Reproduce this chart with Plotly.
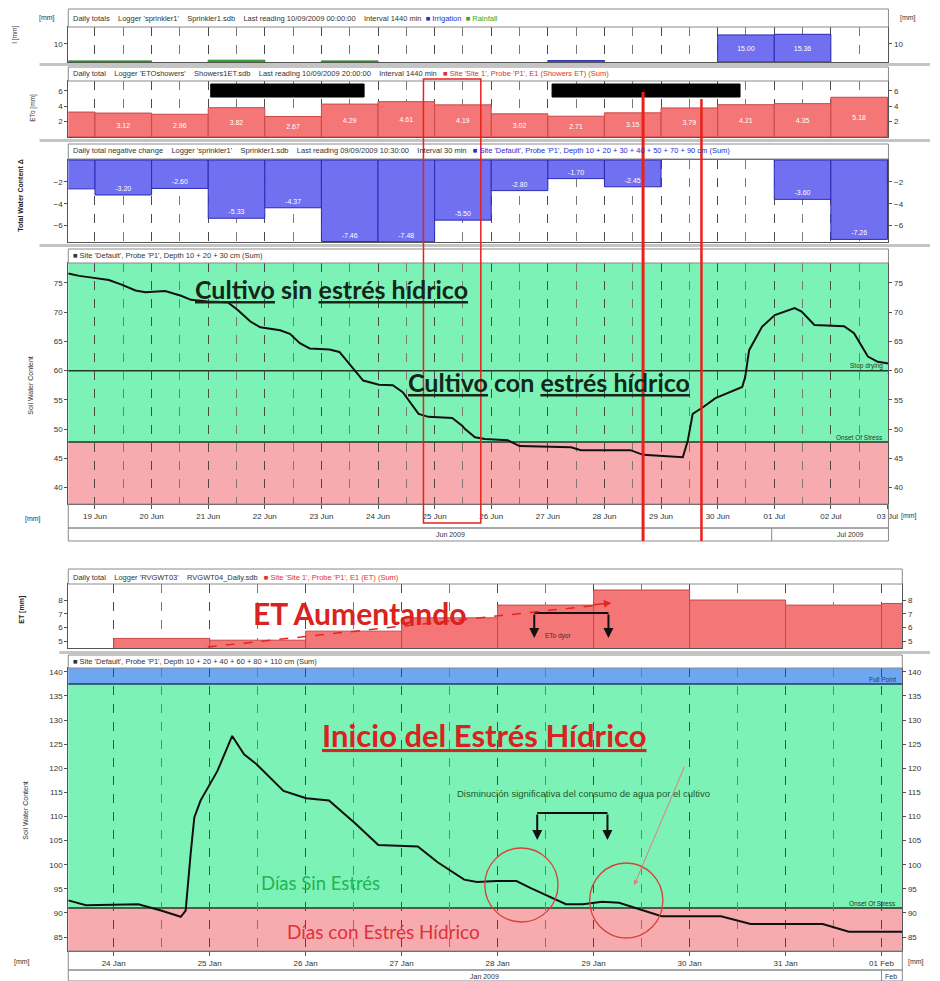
import pandas as pd
import plotly.graph_objects as go

W, H = 940, 981


def fx(p):
    return p / W


def fy(p):
    return 1 - p / H


DAY_MS = 86400000

# ------------------------------------------------------------------ DATA
# Top chart (June - July 2009)
top_range = ["2009-06-18 12:40", "2009-07-03 00:25"]

rain_days = ["2009-06-18", "2009-06-19", "2009-06-21", "2009-06-23"]
rain_mm = [0.6, 0.6, 1.0, 0.6]

irrig_days = ["2009-06-27", "2009-06-30", "2009-07-01"]
irrig_mm = [0.8, 15.00, 15.36]
irrig_labels = ["", "15.00", "15.36"]

eto_days = ["2009-06-18", "2009-06-19", "2009-06-20", "2009-06-21", "2009-06-22",
            "2009-06-23", "2009-06-24", "2009-06-25", "2009-06-26", "2009-06-27",
            "2009-06-28", "2009-06-29", "2009-06-30", "2009-07-01", "2009-07-02",
            "2009-07-03"]
eto_mm = [3.25, 3.12, 2.96, 3.82, 2.67, 4.29, 4.61, 4.19, 3.02, 2.71,
          3.15, 3.79, 4.21, 4.35, 5.18, 2.10]

chg_days = eto_days
chg_mm = [-2.64, -3.20, -2.60, -5.33, -4.37, -7.46, -7.48, -5.50, -2.80, -1.70,
          -2.45, None, None, -3.60, -7.26, -2.60]

swc_top_time = [
    "2009-06-18 12:40", "2009-06-18 17:17", "2009-06-18 22:45", "2009-06-19 05:53",
    "2009-06-19 11:17", "2009-06-19 17:12", "2009-06-19 21:22", "2009-06-20 05:46",
    "2009-06-20 12:29", "2009-06-20 16:42", "2009-06-20 23:46", "2009-06-21 08:14",
    "2009-06-21 12:24", "2009-06-21 17:53", "2009-06-21 22:05", "2009-06-22 06:29",
    "2009-06-22 10:39", "2009-06-22 14:51", "2009-06-22 19:03", "2009-06-23 03:26",
    "2009-06-23 07:38", "2009-06-23 11:50", "2009-06-23 17:43", "2009-06-24 00:24",
    "2009-06-24 06:17", "2009-06-24 10:29", "2009-06-24 17:12", "2009-06-24 21:24",
    "2009-06-25 07:28", "2009-06-25 11:40", "2009-06-25 12:55", "2009-06-25 17:07",
    "2009-06-25 21:19", "2009-06-26 06:58", "2009-06-26 12:00", "2009-06-27 09:49",
    "2009-06-27 14:01", "2009-06-28 11:00", "2009-06-28 16:26", "2009-06-29 09:13",
    "2009-06-29 11:20", "2009-06-29 13:25", "2009-06-29 17:37", "2009-06-29 23:05",
    "2009-06-30 04:57", "2009-06-30 10:25", "2009-06-30 11:40", "2009-06-30 13:21",
    "2009-06-30 18:48", "2009-07-01 00:14", "2009-07-01 08:38", "2009-07-01 11:36",
    "2009-07-01 17:02", "2009-07-02 05:37", "2009-07-02 09:49", "2009-07-02 15:42",
    "2009-07-02 19:54", "2009-07-03 00:29"]
swc_top_mm = [76.6, 76.2, 75.9, 75.5, 74.7, 73.7, 73.4, 73.6, 72.8, 72.1,
              71.8, 71.7, 70.4, 68.4, 67.4, 66.9, 66.3, 64.7, 63.8, 63.6,
              63.2, 61.2, 58.3, 57.6, 57.5, 56.3, 52.6, 52.1, 51.9, 50.6,
              50.0, 48.6, 48.3, 48.1, 47.1, 46.9, 46.4, 46.4, 45.6, 45.2,
              48.0, 52.6, 53.7, 55.3, 56.3, 57.2, 58.9, 63.5, 67.5, 69.5,
              70.7, 70.1, 67.8, 67.6, 66.4, 62.4, 61.5, 61.2]
TOP_STOP = 60.0
TOP_ONSET = 47.8
TOP_YMIN, TOP_YMAX = 37.2, 78.4

# Bottom chart (January - February 2009)
bot_range = ["2009-01-23 12:39", "2009-02-01 05:11"]

et_days = ["2009-01-24", "2009-01-25", "2009-01-26", "2009-01-27", "2009-01-28",
           "2009-01-29", "2009-01-30", "2009-01-31", "2009-02-01"]
et_mm = [5.20, 5.07, 5.73, 6.70, 7.63, 8.73, 8.00, 7.63, 7.75]

swc_bot_time = [
    "2009-01-23 12:39", "2009-01-23 17:05", "2009-01-24 06:10", "2009-01-24 11:50",
    "2009-01-24 16:47", "2009-01-24 18:00", "2009-01-24 19:15", "2009-01-24 20:10",
    "2009-01-24 21:43", "2009-01-25 01:55", "2009-01-25 05:38", "2009-01-25 08:36",
    "2009-01-25 11:48", "2009-01-25 18:28", "2009-01-26 00:08", "2009-01-26 05:50",
    "2009-01-26 12:30", "2009-01-26 18:10", "2009-01-27 04:03", "2009-01-27 09:00",
    "2009-01-27 15:39", "2009-01-27 18:52", "2009-01-27 23:45", "2009-01-28 04:43",
    "2009-01-28 08:10", "2009-01-28 13:07", "2009-01-28 17:05", "2009-01-28 21:17",
    "2009-01-29 02:10", "2009-01-29 06:22", "2009-01-29 12:00", "2009-01-29 17:00",
    "2009-01-30 07:51", "2009-01-30 15:16", "2009-01-31 09:17", "2009-01-31 15:50",
    "2009-02-01 05:11"]
swc_bot_mm = [92.6, 91.6, 91.8, 90.5, 89.2, 90.5, 102.3, 109.8, 113.3, 119.4,
              126.7, 122.9, 120.8, 115.3, 113.8, 113.3, 108.5, 104.1, 103.8, 100.5,
              96.9, 96.4, 96.6, 96.6, 95.2, 93.3, 91.8, 91.8, 92.3, 92.1,
              90.7, 89.3, 89.3, 87.7, 87.7, 86.1, 86.1]
BOT_FULL = 137.5
BOT_ONSET = 91.0
BOT_YMIN, BOT_YMAX = 82.1, 140.8

# ------------------------------------------------------------------ STYLE
GREEN_BAND = "#7df2b6"
PINK_BAND = "#f7abae"
BLUE_BAND = "#6ea6f2"
RED_BAR = "#f57676"
BLUE_BAR = "#7070f0"
AX = "#555555"
TICKFONT = dict(size=8, color="#333333", family="Liberation Sans")


def centers(days):
    return pd.to_datetime(days) + pd.Timedelta(hours=12)


fig = go.Figure()

# P1 rainfall / irrigation
fig.add_trace(go.Bar(x=centers(rain_days), y=rain_mm, width=DAY_MS,
                     marker=dict(color="#3cb43c", line=dict(color="#1e8a1e", width=1)),
                     xaxis="x", yaxis="y", hoverinfo="skip"))
fig.add_trace(go.Bar(x=centers(irrig_days), y=irrig_mm, width=DAY_MS, text=irrig_labels,
                     textposition="inside", insidetextanchor="middle",
                     textfont=dict(size=7, color="white"),
                     marker=dict(color=BLUE_BAR, line=dict(color="#2a2ab0", width=1)),
                     xaxis="x", yaxis="y", hoverinfo="skip"))
# P2 ETo
fig.add_trace(go.Bar(x=centers(eto_days), y=eto_mm, width=DAY_MS,
                     text=[""] + [f"{v:.2f}" for v in eto_mm[1:-1]] + [""],
                     textposition="inside", insidetextanchor="middle",
                     textfont=dict(size=7, color="white"),
                     marker=dict(color=RED_BAR, line=dict(color="#c94848", width=1)),
                     xaxis="x2", yaxis="y2", hoverinfo="skip"))
# P3 soil water change
fig.add_trace(go.Bar(x=centers(chg_days), y=chg_mm, width=DAY_MS,
                     text=[""] + [("" if v is None else f"{v:.2f}") for v in chg_mm[1:-1]] + [""],
                     textposition="inside", insidetextanchor="end",
                     textfont=dict(size=7, color="white"),
                     marker=dict(color=BLUE_BAR, line=dict(color="#2b2bb5", width=1)),
                     xaxis="x3", yaxis="y3", hoverinfo="skip"))
# P4 soil water content line
fig.add_trace(go.Scatter(x=pd.to_datetime(swc_top_time), y=swc_top_mm, mode="lines",
                         line=dict(color="#111111", width=2),
                         xaxis="x4", yaxis="y4", hoverinfo="skip"))
# P5 ET
fig.add_trace(go.Bar(x=centers(et_days), y=et_mm, width=DAY_MS,
                     marker=dict(color=RED_BAR, line=dict(color="#c94848", width=1)),
                     xaxis="x5", yaxis="y5", hoverinfo="skip"))
# P6 soil water content line
fig.add_trace(go.Scatter(x=pd.to_datetime(swc_bot_time), y=swc_bot_mm, mode="lines",
                         line=dict(color="#111111", width=2),
                         xaxis="x6", yaxis="y6", hoverinfo="skip"))

# ------------------------------------------------------------------ AXES
panels = {
    1: (69, 898, 27, 62, [0, 19.4], [10], top_range, "2009-06-19"),
    2: (69, 898, 81, 137, [0, 7.3], [2, 4, 6], top_range, "2009-06-19"),
    3: (69, 898, 160, 242, [-7.5, 0], [-2, -4, -6], top_range, "2009-06-19"),
    4: (69, 898, 263, 504, [TOP_YMIN, TOP_YMAX], [40, 45, 50, 55, 60, 65, 70, 75], top_range, "2009-06-19"),
    5: (69, 912, 584, 648, [4.5, 9.17], [5, 6, 7, 8], bot_range, "2009-01-24"),
    6: (69, 912, 668, 951, [BOT_YMIN, BOT_YMAX], [85, 90, 95, 100, 105, 110, 115, 120, 125, 130, 135, 140], bot_range, "2009-01-24"),
}

layout_axes = {}
for k, (x0, x1, yt, yb, yr, tv, xr, t0) in panels.items():
    xs = "" if k == 1 else str(k)
    show_lbl = k in (4, 6)
    layout_axes[f"xaxis{xs}"] = dict(
        type="date", domain=[fx(x0), fx(x1)], anchor=f"y{xs}", range=xr,
        showline=True, linecolor=AX, mirror=True, zeroline=False,
        showgrid=True, gridcolor="#4a4a4a", griddash="dash", gridwidth=1,
        dtick=DAY_MS, tick0=t0, tickformat="%d %b",
        ticks="outside" if show_lbl else "", ticklen=4, tickcolor=AX,
        showticklabels=show_lbl, tickfont=TICKFONT,
        minor=dict(dtick=DAY_MS / 2, showgrid=True, gridcolor="#7a7a7a",
                   griddash="dash", gridwidth=1),
        fixedrange=True,
    )
    layout_axes[f"yaxis{xs}"] = dict(
        domain=[fy(yb), fy(yt)], anchor=f"x{xs}", range=yr, tickvals=tv,
        showline=True, linecolor=AX, mirror=True, zeroline=False, showgrid=False,
        ticks="outside", ticklen=3, tickcolor=AX, tickfont=TICKFONT, fixedrange=True,
    )
    rk = k + 6
    layout_axes[f"yaxis{rk}"] = dict(
        overlaying=f"y{xs}", side="right", anchor=f"x{xs}", range=yr, tickvals=tv,
        showline=False, zeroline=False, showgrid=False,
        ticks="outside", ticklen=3, tickcolor=AX, tickfont=TICKFONT, fixedrange=True,
    )
    fig.add_trace(go.Scatter(x=[xr[0]], y=[yr[0]], mode="markers", marker=dict(opacity=0),
                             xaxis=f"x{xs}", yaxis=f"y{rk}", hoverinfo="skip"))

# ------------------------------------------------------------------ SHAPES
shapes = []


def band(xref, yref, y0, y1, color):
    shapes.append(dict(type="rect", xref=f"{xref} domain", yref=yref, x0=0, x1=1,
                       y0=y0, y1=y1, fillcolor=color, line=dict(width=0), layer="below"))


def hline(xref, yref, y, color, width=1.5):
    shapes.append(dict(type="line", xref=f"{xref} domain", yref=yref, x0=0, x1=1,
                       y0=y, y1=y, line=dict(color=color, width=width), layer="below"))


band("x4", "y4", TOP_ONSET, TOP_YMAX, GREEN_BAND)
band("x4", "y4", TOP_YMIN, TOP_ONSET, PINK_BAND)
hline("x4", "y4", TOP_STOP, "#1e3a26")
hline("x4", "y4", TOP_ONSET, "#1e3a26")

band("x6", "y6", BOT_FULL, BOT_YMAX, BLUE_BAND)
band("x6", "y6", BOT_ONSET, BOT_FULL, GREEN_BAND)
band("x6", "y6", BOT_YMIN, BOT_ONSET, PINK_BAND)
hline("x6", "y6", BOT_FULL, "#1e3a6a")
hline("x6", "y6", BOT_ONSET, "#1e3a26")


def prect(x0, y0, x1, y1, fill=None, line="#9a9a9a", lw=1):
    shapes.append(dict(type="rect", xref="paper", yref="paper",
                       x0=fx(x0), x1=fx(x1), y0=fy(y1), y1=fy(y0),
                       fillcolor=fill if fill else "rgba(0,0,0,0)",
                       line=dict(color=line, width=lw)))


def pline(x0, y0, x1, y1, color, lw=1, dash=None):
    shapes.append(dict(type="line", xref="paper", yref="paper",
                       x0=fx(x0), x1=fx(x1), y0=fy(y0), y1=fy(y1),
                       line=dict(color=color, width=lw, dash=dash)))


# separators (grey bands between panels)
for ys in (63, 139, 244):
    prect(40, ys, 940, ys + 3, fill="#c4c4c4", line="#c4c4c4", lw=0)
prect(60, 651, 940, 654, fill="#c4c4c4", line="#c4c4c4", lw=0)

# header strips
for (y0, y1, x1) in ((9, 27, 898), (67, 81, 898), (144, 159, 898), (249, 263, 898),
                     (569, 584, 912), (655, 668, 912)):
    prect(69, y0, x1, y1, fill="white", line="#8a8a8a")
# axis label strips
prect(69, 504, 898, 528, line="#8a8a8a")
prect(69, 528, 898, 541, line="#8a8a8a")
prect(69, 951, 912, 970, line="#8a8a8a")
prect(69, 970, 912, 981, line="#8a8a8a")
pline(780, 528, 780, 541, "#8a8a8a")
pline(891, 970, 891, 981, "#8a8a8a")

# redaction boxes
prect(213, 84, 368, 97, fill="black", line="black")
prect(558, 84, 748, 97, fill="black", line="black")

# red overlay marks
prect(428, 79, 486, 523, line="#e8211c", lw=1.5)
pline(650, 92, 650, 541, "#e8211c", lw=3)
pline(709, 99, 709, 541, "#e8211c", lw=2.5)

# circles in bottom panel
shapes.append(dict(type="circle", xref="paper", yref="paper",
                   x0=fx(490), x1=fx(564), y0=fy(922), y1=fy(848),
                   line=dict(color="#d9403a", width=1.3)))
shapes.append(dict(type="circle", xref="paper", yref="paper",
                   x0=fx(596), x1=fx(670), y0=fy(938), y1=fy(863),
                   line=dict(color="#d9403a", width=1.3)))

# brackets
pline(543, 813, 614, 813, "#111111", lw=2)
pline(540, 613, 615, 613, "#111111", lw=2)

# dashed "ET Aumentando" trend line
pline(210, 647, 606, 605, "#e0281f", lw=1.5, dash="dash")

# ------------------------------------------------------------------ ANNOTATIONS
ann = []


def txt(x, y, s, size=7, color="#333333", xanchor="left", family="Liberation Sans",
        angle=0, yanchor="middle"):
    ann.append(dict(x=fx(x), y=fy(y), xref="paper", yref="paper", text=s, showarrow=False,
                    xanchor=xanchor, yanchor=yanchor, textangle=angle,
                    font=dict(size=size, color=color, family=family)))


def arrow(x, y, ax, ay, color, width=1.5, head=2, size=1):
    ann.append(dict(x=fx(x), y=fy(y), xref="paper", yref="paper", ax=ax - x, ay=ay - y,
                    axref="pixel", ayref="pixel", text="", showarrow=True,
                    arrowhead=head, arrowsize=size, arrowwidth=width, arrowcolor=color))


UL = "<span style='text-decoration:underline'>"

# headers
HF = 7.5
txt(72, 18, "Daily totals    Logger 'sprinkler1'    Sprinkler1.sdb    Last reading 10/09/2009 00:00:00"
    "    Interval 1440 min  <span style='color:#2b2bd0'>■ Irrigation</span>"
    "  <span style='color:#2aa82a'>■ Rainfall</span>", size=HF)
txt(72, 74, "Daily total    Logger 'ETOshowers'    Showers1ET.sdb    Last reading 10/09/2009 20:00:00"
    "    Interval 1440 min   <span style='color:#e03030'>■ Site 'Site 1', Probe 'P1', E1 (Showers ET) (Sum)</span>",
    size=HF)
txt(72, 151, "Daily total negative change    Logger 'sprinkler1'    Sprinkler1.sdb    Last reading 09/09/2009 10:30:00"
    "    Interval 30 min   <span style='color:#2b2bd0'>■ Site 'Default', Probe 'P1', Depth 10 + 20 + 30 + 40 + 50 + 70 + 90 cm (Sum)</span>",
    size=HF)
txt(72, 256, "■ Site 'Default', Probe 'P1', Depth 10 + 20 + 30 cm (Sum)", size=HF)
txt(72, 577, "Daily total    Logger 'RVGWT03'    RVGWT04_Daily.sdb   "
    "<span style='color:#e03030'>■ Site 'Site 1', Probe 'P1', E1 (ET) (Sum)</span>", size=HF)
txt(72, 661, "■ Site 'Default', Probe 'P1', Depth 10 + 20 + 40 + 60 + 80 + 110 cm (Sum)", size=HF)

# axis unit labels
txt(47, 18, "[mm]", size=7, xanchor="center")
txt(918, 18, "[mm]", size=7, xanchor="center")
txt(15, 35, "I [mm]", size=6.5, xanchor="center", angle=-90)
txt(33, 108, "ETo [mm]", size=6.5, xanchor="center", angle=-90)
txt(20, 195, "<b>Total Water Content Δ</b>", size=7, color="#222222", xanchor="center", angle=-90)
txt(30, 385, "Soil Water Content", size=7, xanchor="center", angle=-90)
txt(33, 519, "[mm]", size=7, xanchor="center")
txt(919, 516, "[mm]", size=7, xanchor="center")
txt(455, 534, "Jun 2009", size=7, xanchor="center")
txt(860, 534, "Jul 2009", size=7, xanchor="center")
txt(22, 610, "<b>ET [mm]</b>", size=7, color="#222222", xanchor="center", angle=-90)
txt(25, 810, "Soil Water Content", size=7, xanchor="center", angle=-90)
txt(22, 962, "[mm]", size=7, xanchor="center")
txt(926, 962, "[mm]", size=7, xanchor="center")
txt(490, 976, "Jan 2009", size=7, xanchor="center")
txt(901, 976, "Feb", size=7, xanchor="center")

# threshold labels
txt(895, 366, "Stop drying", size=6.5, color="#1e3a26", xanchor="right")
txt(895, 437, "Onset Of Stress", size=6.5, color="#1e3a26", xanchor="right")
txt(908, 679, "Full Point", size=6.5, color="#1e3a6a", xanchor="right")
txt(908, 903, "Onset Of Stress", size=6.5, color="#1e3a26", xanchor="right")

# big texts
txt(335, 289, f"<b>{UL}Cultivo</span> sin {UL}estrés hídrico</span></b>", size=25,
    color="#14261a", xanchor="center", family="Lato")
txt(555, 382, f"<b>{UL}Cultivo</span> con {UL}estrés hídrico</span></b>", size=25,
    color="#14261a", xanchor="center", family="Lato")
txt(363, 613, "<b>ET Aumentando</b>", size=30, color="#d8231f", xanchor="center", family="Lato")
txt(490, 735, f"<b>{UL}Inicio del Estrés Hídrico</span></b>", size=31, color="#d8231f",
    xanchor="center", family="Lato")
txt(590, 793, "Disminución significativa del consumo de agua por el cultivo", size=9.5,
    color="#1d5a2a", xanchor="center")
txt(324, 883, "Días Sin Estrés", size=18.5, color="#22b455", xanchor="center", family="Lato")
txt(388, 931, "Días con Estrés Hídrico", size=19, color="#e0303a", xanchor="center", family="Lato")
txt(549, 636, "ETo dyor", size=6.5, color="#333333", xanchor="left")

# arrows
arrow(618, 603, 598, 605, "#e0281f", width=1.5, head=2)
arrow(540, 638, 540, 613, "#111111", width=2, head=2)
arrow(615, 638, 615, 613, "#111111", width=2, head=2)
arrow(543, 840, 543, 813, "#111111", width=2, head=2)
arrow(614, 840, 614, 813, "#111111", width=2, head=2)
arrow(641, 885, 692, 765, "#e57a7a", width=1, head=2)

fig.update_layout(
    width=W, height=H, margin=dict(l=0, r=0, t=0, b=0),
    paper_bgcolor="white", plot_bgcolor="white", showlegend=False,
    font=dict(family="Liberation Sans", size=8, color="#333333"),
    shapes=shapes, annotations=ann, **layout_axes,
)

fig.write_html("out.html")
